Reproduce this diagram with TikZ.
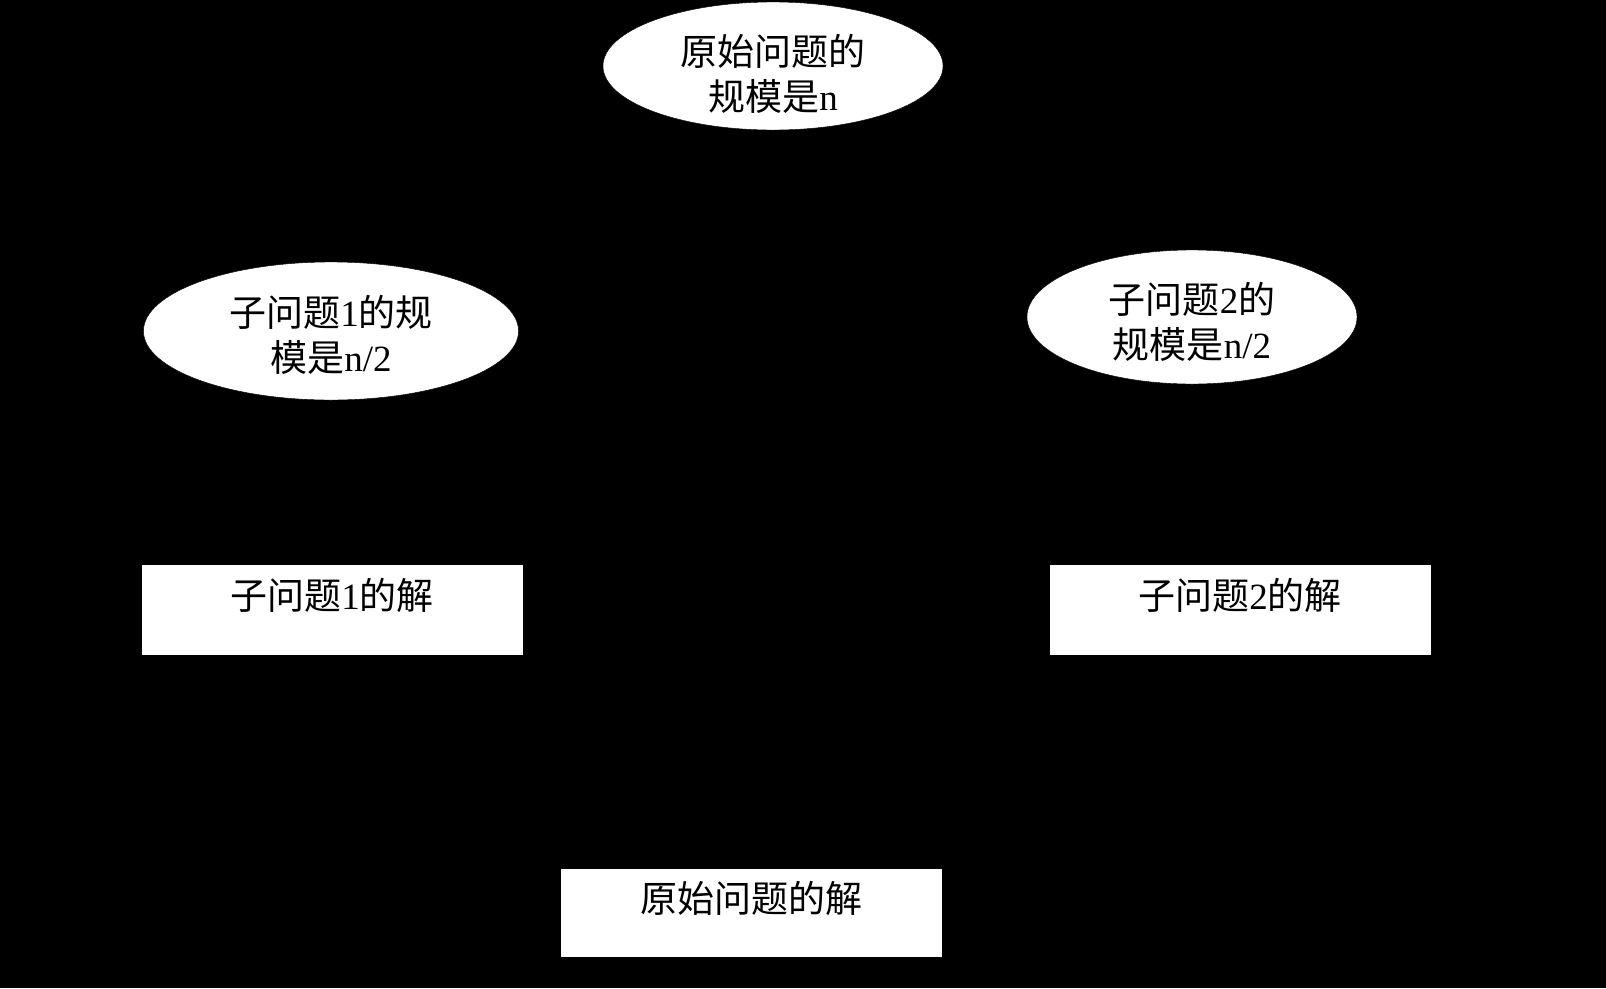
\documentclass[tikz,border=0pt]{standalone}
\usepackage{fontspec}
\setmainfont{Liberation Serif}
\newfontfamily\cjk{Noto Sans CJK SC}
\usetikzlibrary{shapes.geometric}
\tikzset{
  ell/.style={ellipse, fill=white, draw=black, inner sep=0pt},
  lbl/.style={align=center, inner sep=0pt, text=black,
    font=\fontsize{37}{45}\selectfont},
  solbox/.style={rectangle, fill=white, draw=black, inner xsep=0pt, inner ysep=0pt,
    minimum width=382pt, align=center, font=\fontsize{37}{45}\selectfont}
}
\begin{document}
\begin{tikzpicture}[x=1pt,y=-1pt]
\fill[black] (0,0) rectangle (1606,988);
\useasboundingbox (0,0) rectangle (1606,988);
\node[ell, minimum width=340pt, minimum height=128pt] (top) at (773,66) {};
\node[lbl] (toptxt) at (773,74) {{\cjk 原始问题的}\\{\cjk 规模是}n};
\node[ell, minimum width=375pt, minimum height=138pt] (p1) at (331,331) {};
\node[lbl] (p1txt) at (331,335) {{\cjk 子问题}1{\cjk 的规}\\{\cjk 模是}n/2};
\node[ell, minimum width=330pt, minimum height=134pt] (p2) at (1192,317) {};
\node[lbl] (p2txt) at (1192,322) {{\cjk 子问题}2{\cjk 的}\\{\cjk 规模是}n/2};
\node[solbox, text height=45pt, text depth=46pt, anchor=north] (s1) at (332,564)
  {{\cjk 子问题}1{\cjk 的解}};
\node[solbox, text height=45pt, text depth=46pt, anchor=north] (s2) at (1240,564)
  {{\cjk 子问题}2{\cjk 的解}};
\node[solbox, text height=44pt, text depth=45pt, anchor=north] (s) at (751,868)
  {{\cjk 原始问题的解}};
\end{tikzpicture}
\end{document}
